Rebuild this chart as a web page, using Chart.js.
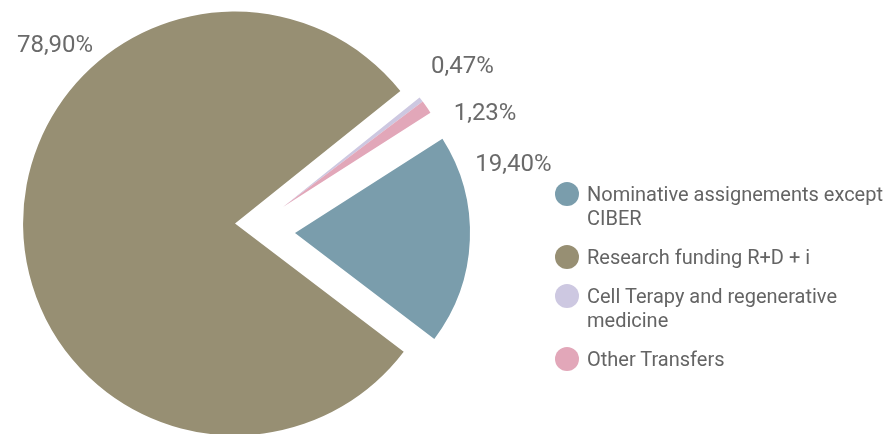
<!DOCTYPE html>
<html>
<head>
<meta charset="utf-8">
<script src="https://cdn.jsdelivr.net/npm/chart.js@4"></script>
<style>
  html, body { margin: 0; padding: 0; background: #fff; }
  #wrap { position: relative; width: 889px; height: 434px; overflow: hidden; }
  #legend { position: absolute; left: 555px; top: 182px; width: 334px;
    font-family: "Roboto", sans-serif; font-size: 20px; line-height: 24px; color: #646464; }
  .item { display: flex; align-items: flex-start; margin-bottom: 15px; }
  .dot { width: 24px; height: 24px; border-radius: 50%; flex: none; margin-right: 8px; }
  .txt { width: 301px; }
</style>
</head>
<body>
<div id="wrap">
  <canvas id="pie" width="889" height="434"></canvas>
  <div id="legend"></div>
</div>
<script>
const categories = ['Nominative assignements except CIBER', 'Research funding R+D + i', 'Cell Terapy and regenerative medicine', 'Other Transfers'];
const shares = [19.40, 78.90, 0.47, 1.23];
const colors = ['#7a9dac', '#978f73', '#cdc8e1', '#e2a7b9'];

// pull slices away from the centre and resize them
const explodePlugin = {
  id: 'explode',
  afterDatasetsUpdate(chart, args, opts) {
    chart.getDatasetMeta(0).data.forEach((arc, i) => {
      arc.x += opts.shift[i][0];
      arc.y += opts.shift[i][1];
      arc.outerRadius *= opts.radius[i];
    });
  }
};

// percentage text outside each slice
const labelPlugin = {
  id: 'sliceLabels',
  afterDatasetsDraw(chart, args, opts) {
    const ctx = chart.ctx;
    ctx.save();
    ctx.font = opts.font;
    ctx.fillStyle = opts.color;
    ctx.textAlign = 'center';
    ctx.textBaseline = 'middle';
    chart.getDatasetMeta(0).data.forEach((arc, i) => {
      const a = (arc.startAngle + arc.endAngle) / 2 + opts.angle[i] * Math.PI / 180;
      const r = arc.outerRadius + opts.gap[i];
      const txt = shares[i].toFixed(2).replace('.', ',') + '%';
      ctx.fillText(txt, arc.x + Math.cos(a) * r, arc.y + Math.sin(a) * r);
    });
    ctx.restore();
  }
};

const ctx = document.getElementById('pie').getContext('2d');

new Chart(ctx, {
  type: 'pie',
  data: {
    labels: categories,
    datasets: [{
      data: shares,
      backgroundColor: colors,
      borderWidth: 0,
      hoverOffset: 0
    }]
  },
  options: {
    responsive: false,
    animation: false,
    events: [],
    rotation: 57.4,
    layout: { padding: { left: 89, right: 450, top: 51, bottom: 33 } },
    plugins: {
      legend: { display: false },
      tooltip: { enabled: false },
      explode: { shift: [[31, 7], [-29, -2.5], [19, -19], [19, -19]], radius: [1, 1.211, 1, 1] },
      sliceLabels: {
        angle: [-19.5, 45.4, 0, 10],
        gap: [53.7, 41.1, 52.3, 47.6],
        font: '24px Roboto',
        color: '#6a6a6a'
      }
    }
  },
  plugins: [explodePlugin, labelPlugin]
});

const legend = document.getElementById('legend');
categories.forEach((name, i) => {
  const item = document.createElement('div');
  item.className = 'item';
  item.innerHTML = '<span class="dot" style="background:' + colors[i] + '"></span><span class="txt">' + name + '</span>';
  legend.appendChild(item);
});
</script>
</body>
</html>
